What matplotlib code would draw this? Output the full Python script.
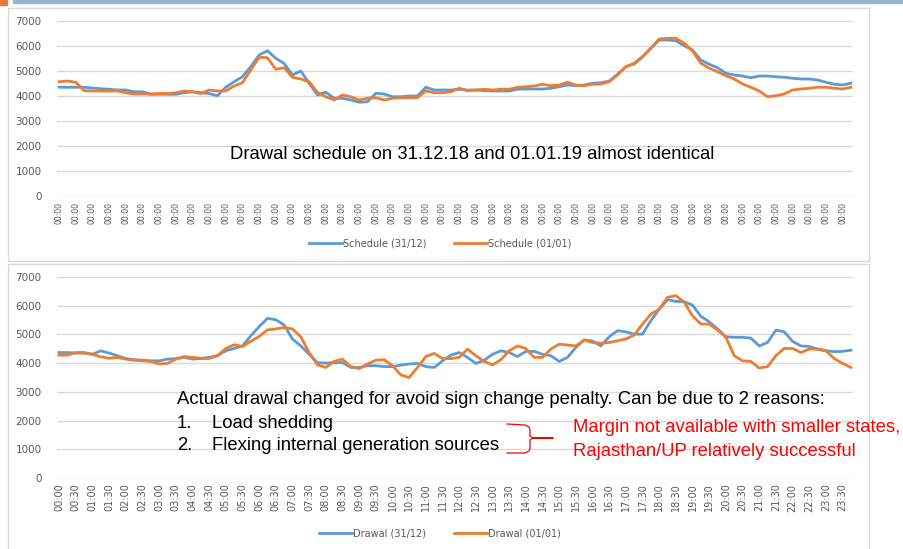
import matplotlib
matplotlib.use("Agg")
import matplotlib.pyplot as plt
from matplotlib.patches import Rectangle
from matplotlib.lines import Line2D

# 15-minute blocks, labels every 30 min
times = ["%02d:%02d" % (h, m) for h in range(24) for m in (0, 15, 30, 45)]
tick_pos = list(range(0, 96, 2))
top_labels = ["00:00"] * len(tick_pos)
bottom_labels = [times[i] for i in tick_pos]

schedule_3112 = [
    4350, 4350, 4350, 4350, 4320, 4290, 4270, 4240, 4240, 4170, 4170, 4070,
    4070, 4070, 4070, 4130, 4170, 4130, 4100, 4010, 4350, 4570, 4770, 5170,
    5640, 5810, 5510, 5300, 4840, 5000, 4510, 4040, 4150, 3910, 3910, 3840,
    3750, 3770, 4110, 4080, 3970, 3970, 4000, 4000, 4350, 4240, 4240, 4240,
    4270, 4240, 4240, 4210, 4200, 4200, 4200, 4270, 4280, 4280, 4280, 4310,
    4370, 4440, 4410, 4440, 4510, 4530, 4600, 4870, 5170, 5280, 5570, 5910,
    6240, 6240, 6210, 6010, 5840, 5440, 5270, 5130, 4910, 4840, 4800, 4730,
    4800, 4800, 4770, 4750, 4710, 4680, 4680, 4640, 4550, 4470, 4440, 4510,
]
schedule_0101 = [
    4570, 4600, 4550, 4210, 4200, 4200, 4200, 4200, 4130, 4080, 4080, 4080,
    4100, 4100, 4130, 4200, 4170, 4100, 4240, 4200, 4200, 4400, 4530, 5040,
    5550, 5530, 5070, 5130, 4750, 4680, 4570, 4150, 3970, 3840, 4040, 3970,
    3840, 3910, 3930, 3840, 3910, 3930, 3930, 3930, 4210, 4130, 4130, 4170,
    4310, 4210, 4240, 4270, 4240, 4270, 4270, 4350, 4370, 4400, 4470, 4410,
    4440, 4550, 4440, 4410, 4470, 4480, 4570, 4840, 5170, 5310, 5570, 5910,
    6280, 6310, 6310, 6110, 5800, 5310, 5110, 4970, 4810, 4680, 4480, 4350,
    4200, 3970, 4010, 4080, 4240, 4280, 4310, 4350, 4350, 4310, 4280, 4350,
]
drawal_3112 = [
    4370, 4370, 4350, 4350, 4310, 4430, 4350, 4260, 4160, 4120, 4100, 4080,
    4080, 4140, 4160, 4200, 4140, 4160, 4200, 4260, 4430, 4510, 4600, 4950,
    5270, 5560, 5510, 5330, 4840, 4600, 4310, 4020, 4000, 4020, 4020, 3850,
    3850, 3910, 3910, 3880, 3880, 3930, 3970, 3990, 3880, 3850, 4080, 4280,
    4370, 4200, 3990, 4100, 4310, 4430, 4370, 4230, 4410, 4410, 4310, 4260,
    4060, 4200, 4550, 4810, 4770, 4600, 4920, 5130, 5090, 5010, 5010, 5480,
    5880, 6210, 6150, 6140, 6020, 5630, 5440, 5190, 4920, 4900, 4900, 4870,
    4600, 4720, 5150, 5090, 4760, 4600, 4580, 4490, 4430, 4400, 4410, 4450,
]
drawal_0101 = [
    4280, 4280, 4370, 4370, 4310, 4220, 4170, 4200, 4140, 4100, 4080, 4060,
    3970, 3990, 4140, 4230, 4200, 4170, 4160, 4260, 4510, 4640, 4580, 4760,
    4930, 5160, 5190, 5240, 5190, 4920, 4370, 3940, 3850, 4060, 4140, 3880,
    3810, 3970, 4100, 4120, 3910, 3590, 3500, 3850, 4230, 4340, 4160, 4160,
    4200, 4490, 4260, 4060, 3940, 4120, 4430, 4600, 4510, 4200, 4200, 4490,
    4660, 4630, 4600, 4800, 4720, 4690, 4720, 4780, 4840, 4980, 5360, 5710,
    5880, 6290, 6350, 6120, 5650, 5360, 5360, 5150, 4900, 4260, 4080, 4060,
    3830, 3880, 4260, 4510, 4510, 4370, 4490, 4490, 4430, 4160, 3990, 3850,
]

BLUE = "#5B9BD5"
ORANGE = "#ED7D31"
GRID = "#D9D9D9"
TXT = "#595959"

W, H = 904, 549
fig = plt.figure(figsize=(W / 100, H / 100), dpi=100)


def fx(x):
    return x / W


def fy(y):
    return 1 - y / H


def make_chart(left, right, top, bottom, s1, s2, labels, names, lab_size):
    ax = fig.add_axes([fx(left), fy(bottom), fx(right - left), fy(top) - fy(bottom)])
    x = list(range(96))
    ax.plot(x, s1, color=BLUE, lw=2.0, label=names[0], solid_joinstyle="round")
    ax.plot(x, s2, color=ORANGE, lw=2.0, label=names[1], solid_joinstyle="round")
    ax.set_xlim(-0.25, 95.25)
    ax.set_ylim(0, 7000)
    ax.set_yticks(range(0, 7001, 1000))
    ax.set_xticks(tick_pos)
    ax.set_xticklabels(labels, rotation=90, fontsize=lab_size, color=TXT)
    ax.tick_params(axis="y", labelsize=7.5, labelcolor=TXT, length=0, pad=11)
    ax.tick_params(axis="x", length=0, pad=4)
    ax.grid(axis="y", color=GRID, lw=1)
    ax.set_axisbelow(True)
    for sp in ax.spines.values():
        sp.set_visible(False)
    return ax


# slide decorations
fig.patches.append(Rectangle((fx(13), fy(3)), 1 - fx(13), fy(0) - fy(3),
                             transform=fig.transFigure, color="#94B6D2", zorder=0))
fig.patches.append(Rectangle((0, fy(5)), fx(7), fy(0) - fy(5),
                             transform=fig.transFigure, color="#E07B39", zorder=0))
# chart frames
fig.patches.append(Rectangle((fx(8), fy(261)), fx(861), fy(8) - fy(261),
                             transform=fig.transFigure, fill=False, ec=GRID, lw=1))
fig.patches.append(Rectangle((fx(8), fy(560)), fx(861), fy(264) - fy(560),
                             transform=fig.transFigure, fill=False, ec=GRID, lw=1))

ax1 = make_chart(57, 853, 21, 196, schedule_3112, schedule_0101, top_labels,
                 ["Schedule (31/12)", "Schedule (01/01)"], 5.6)
ax2 = make_chart(57, 853, 277, 478, drawal_3112, drawal_0101, bottom_labels,
                 ["Drawal (31/12)", "Drawal (01/01)"], 7)

for ax, ly in ((ax1, 243), (ax2, 533)):
    leg = ax.legend(loc="center", bbox_to_anchor=(fx(440), fy(ly)),
                    bbox_transform=fig.transFigure, ncol=2, frameon=False,
                    fontsize=7, handlelength=3.4, handletextpad=0.1,
                    columnspacing=2.8)
    for t in leg.get_texts():
        t.set_color(TXT)

font = "Liberation Sans"
fs = 13.3
fig.text(fx(230), fy(155), "Drawal schedule on 31.12.18 and 01.01.19 almost identical",
         fontsize=fs, family=font, va="center", ha="left")
fig.text(fx(177), fy(400),
         "Actual drawal changed for avoid sign change penalty. Can be due to 2 reasons:",
         fontsize=fs, family=font, va="center", ha="left")
fig.text(fx(177), fy(423), "1.", fontsize=fs, family=font, va="center")
fig.text(fx(212), fy(423), "Load shedding", fontsize=fs, family=font, va="center")
fig.text(fx(177), fy(446), "2.", fontsize=fs, family=font, va="center")
fig.text(fx(212), fy(446), "Flexing internal generation sources", fontsize=fs,
         family=font, va="center")

# red brace
bx = [507, 525, 529, 530, 530, 533, 553, 533, 530, 530, 529, 525, 507]
by = [424, 425, 427, 430, 436, 438, 438, 438, 440, 449, 451, 453, 453]
fig.lines.append(Line2D([fx(v) for v in bx], [fy(v) for v in by],
                        transform=fig.transFigure, color="#FF0000", lw=0.9))
fig.text(fx(573), fy(428), "Margin not available with smaller states,",
         fontsize=fs, family=font, color="#FF0000", va="center")
fig.text(fx(573), fy(451), "Rajasthan/UP relatively successful",
         fontsize=fs, family=font, color="#FF0000", va="center")

fig.savefig("out.png", dpi=100)
